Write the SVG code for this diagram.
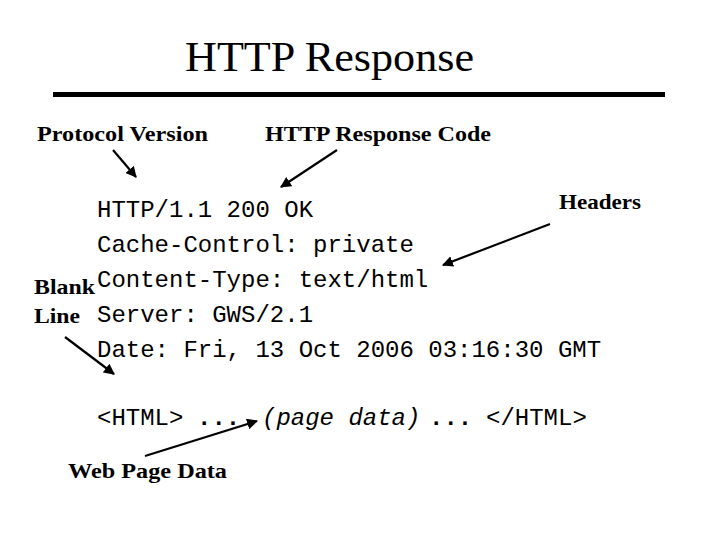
<svg xmlns="http://www.w3.org/2000/svg" width="720" height="540" viewBox="0 0 720 540">
<defs>
<marker id="ah" viewBox="0 0 10 10" refX="9" refY="5" markerWidth="5" markerHeight="5" orient="auto" markerUnits="strokeWidth">
<path d="M0,0 L10,5 L0,10 z" fill="#000"/>
</marker>
<style>
.lbl{font-family:"Liberation Serif","Times New Roman",serif;font-weight:bold;font-size:22px;fill:#000}
.mono{font-family:"Liberation Mono","Courier New",monospace;font-size:24px;fill:#000}
.ln{stroke:#000;stroke-width:2.2;fill:none;marker-end:url(#ah)}
</style>
</defs>
<rect width="720" height="540" fill="#fff"/>
<g id="title">
<text x="185" y="71" font-family="'Liberation Serif','Times New Roman',serif" font-size="42" textLength="289" lengthAdjust="spacingAndGlyphs">HTTP Response</text>
<rect x="53" y="92" width="612" height="5" fill="#000"/>
</g>
<g id="protocol-version"><text class="lbl" x="37" y="141" textLength="171" lengthAdjust="spacingAndGlyphs">Protocol Version</text></g>
<g id="response-code"><text class="lbl" x="265" y="141" textLength="226" lengthAdjust="spacingAndGlyphs">HTTP Response Code</text></g>
<g id="headers"><text class="lbl" x="559" y="209" textLength="82" lengthAdjust="spacingAndGlyphs">Headers</text></g>
<g id="blank-line"><text class="lbl" x="34" y="294" textLength="61" lengthAdjust="spacingAndGlyphs">Blank</text><text class="lbl" x="34" y="323" textLength="46" lengthAdjust="spacingAndGlyphs">Line</text></g>
<g id="web-page-data"><text class="lbl" x="68" y="478" textLength="159" lengthAdjust="spacingAndGlyphs">Web Page Data</text></g>
<g id="response">
<text class="mono" x="97" y="217">HTTP/1.1 200 OK</text>
<text class="mono" x="97" y="252">Cache-Control: private</text>
<text class="mono" x="97" y="287">Content-Type: text/html</text>
<text class="mono" x="97" y="322">Server: GWS/2.1</text>
<text class="mono" x="97" y="357">Date: Fri, 13 Oct 2006 03:16:30 GMT</text>
<text class="mono" x="97" y="425">&lt;HTML&gt;</text>
<text class="mono" x="197" y="425" font-weight="bold">...</text>
<text class="mono" x="262" y="425" font-style="italic">(page data)</text>
<text class="mono" x="429" y="425" font-weight="bold">...</text>
<text class="mono" x="486" y="425">&lt;/HTML&gt;</text>
</g>
<g id="connectors">
<line class="ln" x1="113" y1="150" x2="136" y2="177"/>
<line class="ln" x1="337" y1="150" x2="281" y2="187"/>
<line class="ln" x1="550" y1="224" x2="443" y2="265"/>
<line class="ln" x1="65" y1="337" x2="114" y2="374"/>
<line class="ln" x1="145" y1="456" x2="257" y2="421"/>
</g>
</svg>
